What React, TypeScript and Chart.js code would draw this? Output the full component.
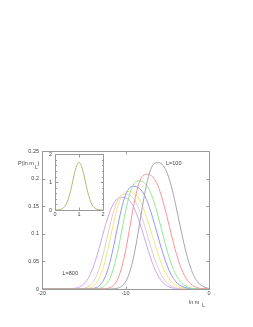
import React, { useEffect, useRef } from "react";
import { Chart, registerables } from "chart.js";

Chart.register(...registerables);

// ---- data ----
const lnm = [
  -20, -19.5, -19, -18.5, -18, -17.5, -17, -16.5, -16, -15.5, -15, -14.5, -14, -13.5,
  -13, -12.5, -12, -11.5, -11, -10.5, -10, -9.5, -9, -8.5, -8, -7.5, -7, -6.5, -6,
  -5.5, -5, -4.5, -4, -3.5, -3, -2.5, -2, -1.5, -1, -0.5, 0,
];

const pL100 = [
  0, 0, 0, 0, 0, 0, 0, 0, 0, 0, 0, 0, 0, 0, 0, 0,
  0.0001, 0.0003, 0.0013, 0.0045, 0.0129, 0.0303, 0.0599, 0.1009, 0.1469, 0.1881,
  0.216, 0.2278, 0.2288, 0.2238, 0.2097, 0.1855, 0.1533, 0.1172, 0.0823, 0.0526,
  0.0303, 0.0157, 0.0073, 0.003, 0.0011,
];
const pL200 = [
  0, 0, 0, 0, 0, 0, 0, 0, 0, 0, 0, 0, 0, 0,
  0.0001, 0.0004, 0.0017, 0.0058, 0.016, 0.0363, 0.0687, 0.1103, 0.1527, 0.186,
  0.2039, 0.208, 0.2062, 0.1982, 0.1821, 0.1583, 0.129, 0.0979, 0.0687, 0.0443,
  0.0261, 0.014, 0.0067, 0.0029, 0.0011, 0.0004, 0.0001,
];
const pL300 = [
  0, 0, 0, 0, 0, 0, 0, 0, 0, 0, 0, 0,
  0.0001, 0.0005, 0.0018, 0.0058, 0.0155, 0.0342, 0.0636, 0.1013, 0.1403, 0.1719,
  0.1904, 0.1959, 0.195, 0.1887, 0.1749, 0.1535, 0.1265, 0.0971, 0.0689, 0.0449,
  0.0267, 0.0145, 0.0071, 0.0031, 0.0012, 0.0004, 0.0001, 0, 0,
];
const pL400 = [
  0, 0, 0, 0, 0, 0, 0, 0, 0, 0, 0,
  0.0002, 0.0007, 0.0027, 0.0081, 0.0199, 0.041, 0.0719, 0.1087, 0.144, 0.1702,
  0.1835, 0.186, 0.1841, 0.1767, 0.1625, 0.1417, 0.1163, 0.0892, 0.0635, 0.0418,
  0.0252, 0.0139, 0.007, 0.0032, 0.0013, 0.0005, 0.0002, 0, 0, 0,
];
const pL500 = [
  0, 0, 0, 0, 0, 0, 0, 0, 0,
  0.0001, 0.0003, 0.0011, 0.0038, 0.0106, 0.0244, 0.0475, 0.0792, 0.1145, 0.1459,
  0.1671, 0.1761, 0.1769, 0.174, 0.1657, 0.1512, 0.1311, 0.1073, 0.0823, 0.0589,
  0.039, 0.0239, 0.0134, 0.0069, 0.0032, 0.0014, 0.0005, 0.0002, 0, 0, 0, 0,
];
const pL600 = [
  0, 0, 0, 0, 0, 0, 0, 0,
  0.0001, 0.0003, 0.0012, 0.0039, 0.0103, 0.0231, 0.0442, 0.0732, 0.1062, 0.1367,
  0.1588, 0.1699, 0.172, 0.1701, 0.1628, 0.1487, 0.1283, 0.1038, 0.078, 0.0541,
  0.0345, 0.02, 0.0106, 0.005, 0.0021, 0.0008, 0.0003, 0.0001, 0, 0, 0, 0, 0,
];
const pL800 = [
  0, 0, 0, 0, 0, 0,
  0.0001, 0.0005, 0.0014, 0.0038, 0.009, 0.0187, 0.0343, 0.0561, 0.0825, 0.1102,
  0.1349, 0.153, 0.1631, 0.166, 0.1652, 0.1597, 0.1476, 0.1291, 0.1057, 0.0805,
  0.0565, 0.0364, 0.0213, 0.0113, 0.0054, 0.0023, 0.0009, 0.0003, 0.0001,
  0, 0, 0, 0, 0, 0,
];

const seriesNames = ["L=100", "L=200", "L=300", "L=400", "L=500", "L=600", "L=800"];
const seriesValues = [pL100, pL200, pL300, pL400, pL500, pL600, pL800];
const seriesColors = ["#a6a6a6", "#ff9292", "#92e892", "#9494ff", "#f0e878", "#e2cdd0", "#cca6f6"];

const xTicks = [-20, -10, 0];
const xTickLabels = ["-20", "-10", "0"];
const yTicks = [0, 0.05, 0.1, 0.15, 0.2, 0.25];
const yTickLabels = ["0", "0.05", "0.1", "0.15", "0.2", "0.25"];

const insetX = [0, 0.1, 0.2, 0.3, 0.4, 0.5, 0.6, 0.7, 0.8, 0.9, 1, 1.1, 1.2, 1.3, 1.4, 1.5, 1.6, 1.7, 1.8, 1.9, 2];
const insetY = [0.001, 0.004, 0.015, 0.046, 0.119, 0.269, 0.524, 0.879, 1.272, 1.588, 1.71, 1.588, 1.272, 0.879, 0.524, 0.269, 0.119, 0.046, 0.015, 0.004, 0.001];
const insetTicks = [0, 1, 2];
const insetTickLabels = ["0", "1", "2"];
const insetMinorTicks = [0, 0.2, 0.4, 0.6, 0.8, 1, 1.2, 1.4, 1.6, 1.8, 2];

const FONT_FAMILY = '"Liberation Sans", Arial, sans-serif';
const FONT_SIZE = 5.5;
const TEXT_COLOR = "#444444";
const FRAME_COLOR = "#9a9a9a";

function px(v: number) {
  return Math.round(v) + 0.5;
}

const mainDecor = {
  id: "mainDecor",
  afterDraw(chart: any) {
    const { ctx, chartArea } = chart;
    const xs = chart.scales.x;
    const ys = chart.scales.y;
    const L = px(chartArea.left), R = px(chartArea.right), T = px(chartArea.top), B = px(chartArea.bottom);
    ctx.save();
    ctx.strokeStyle = FRAME_COLOR;
    ctx.lineWidth = 1;
    ctx.beginPath();
    ctx.rect(L, T, R - L, B - T);
    for (const v of yTicks) {
      const y = px(ys.getPixelForValue(v));
      ctx.moveTo(L, y); ctx.lineTo(L + 3, y);
      ctx.moveTo(R, y); ctx.lineTo(R - 3, y);
    }
    for (const v of xTicks) {
      const x = px(xs.getPixelForValue(v));
      ctx.moveTo(x, B); ctx.lineTo(x, B - 3);
      ctx.moveTo(x, T); ctx.lineTo(x, T + 3);
    }
    ctx.stroke();

    ctx.fillStyle = TEXT_COLOR;
    ctx.textBaseline = "middle";
    ctx.textAlign = "left";
    ctx.font = `${FONT_SIZE}px ${FONT_FAMILY}`;
    // y title  P(ln m_L)
    const yt = "P(ln m";
    const ytx = 18, yty = 163.5;
    ctx.fillText(yt, ytx, yty);
    const w1 = ctx.measureText(yt).width;
    ctx.font = `${FONT_SIZE - 0.5}px ${FONT_FAMILY}`;
    ctx.fillText("L", ytx + w1 + 1.2, yty + 4.5);
    ctx.font = `${FONT_SIZE}px ${FONT_FAMILY}`;
    ctx.fillText(")", ytx + w1 + 3.6, yty);
    // x title ln m_L
    const xt = "ln m";
    const xtx = 189, xty = 302;
    ctx.fillText(xt, xtx, xty);
    const w2 = ctx.measureText(xt).width;
    ctx.font = `${FONT_SIZE - 0.5}px ${FONT_FAMILY}`;
    ctx.fillText("L", xtx + w2 + 2.5, xty + 3.5);
    ctx.font = `${FONT_SIZE}px ${FONT_FAMILY}`;
    // curve labels
    ctx.fillText(seriesNames[0], 166, 163);
    ctx.fillText(seriesNames[6], 62.5, 273.5);
    ctx.restore();
  },
};

const insetDecor = {
  id: "insetDecor",
  afterDraw(chart: any) {
    const { ctx, chartArea } = chart;
    const xs = chart.scales.x;
    const ys = chart.scales.y;
    const L = px(chartArea.left), R = px(chartArea.right), T = px(chartArea.top), B = px(chartArea.bottom);
    ctx.save();
    ctx.strokeStyle = FRAME_COLOR;
    ctx.lineWidth = 1;
    ctx.beginPath();
    ctx.rect(L, T, R - L, B - T);
    for (const v of insetMinorTicks) {
      const y = px(ys.getPixelForValue(v));
      const len = insetTicks.includes(v) ? 3 : 1.5;
      ctx.moveTo(L, y); ctx.lineTo(L + len, y);
      ctx.moveTo(R, y); ctx.lineTo(R - len, y);
    }
    for (const v of insetTicks) {
      const x = px(xs.getPixelForValue(v));
      ctx.moveTo(x, B); ctx.lineTo(x, B - 3);
      ctx.moveTo(x, T); ctx.lineTo(x, T + 3);
    }
    ctx.stroke();
    ctx.restore();
  },
};

const tickFont = { family: FONT_FAMILY, size: FONT_SIZE };

function MainChart() {
  const ref = useRef<HTMLCanvasElement | null>(null);
  useEffect(() => {
    if (!ref.current) return;
    const chart = new Chart(ref.current, {
      type: "line",
      data: {
        datasets: seriesValues.map((vals, k) => ({
          label: seriesNames[k],
          data: lnm.map((x, i) => ({ x, y: vals[i] })),
          borderColor: seriesColors[k],
          borderWidth: 1,
          pointRadius: 0,
          fill: false,
          cubicInterpolationMode: "monotone" as const,
        })),
      },
      options: {
        animation: false,
        responsive: false,
        devicePixelRatio: 1,
        events: [],
        layout: { padding: { top: 151, right: 44, left: 0, bottom: 0 } },
        plugins: { legend: { display: false }, tooltip: { enabled: false } },
        scales: {
          x: {
            type: "linear",
            min: -20,
            max: 0,
            afterBuildTicks: (s: any) => { s.ticks = xTicks.map((v) => ({ value: v })); },
            afterFit: (s: any) => { s.height = 38; },
            grid: { display: false, drawTicks: false },
            border: { display: false },
            ticks: {
              font: tickFont,
              color: TEXT_COLOR,
              padding: 1.5,
              maxRotation: 0,
              autoSkip: false,
              callback: (_v: any, i: number) => xTickLabels[i],
            },
          },
          y: {
            type: "linear",
            min: 0,
            max: 0.25,
            afterBuildTicks: (s: any) => { s.ticks = yTicks.map((v) => ({ value: v })); },
            afterFit: (s: any) => { s.width = 42; },
            grid: { display: false, drawTicks: false },
            border: { display: false },
            ticks: {
              font: tickFont,
              color: TEXT_COLOR,
              padding: 3,
              autoSkip: false,
              callback: (_v: any, i: number) => yTickLabels[i],
            },
          },
        },
      },
      plugins: [mainDecor],
    } as any);
    return () => chart.destroy();
  }, []);
  return <canvas ref={ref} width={253} height={327} style={{ position: "absolute", left: 0, top: 0, width: 253, height: 327 }} />;
}

function InsetChart() {
  const ref = useRef<HTMLCanvasElement | null>(null);
  useEffect(() => {
    if (!ref.current) return;
    const chart = new Chart(ref.current, {
      type: "line",
      data: {
        datasets: [
          {
            label: "scaled",
            data: insetX.map((x, i) => ({ x, y: insetY[i] })),
            borderColor: "#a8c070",
            borderWidth: 1,
            pointRadius: 0,
            fill: false,
            cubicInterpolationMode: "monotone" as const,
          },
        ],
      },
      options: {
        animation: false,
        responsive: false,
        devicePixelRatio: 1,
        events: [],
        layout: { padding: { top: 6, right: 5, left: 0, bottom: 0 } },
        plugins: { legend: { display: false }, tooltip: { enabled: false } },
        scales: {
          x: {
            type: "linear",
            min: 0,
            max: 2,
            afterBuildTicks: (s: any) => { s.ticks = insetTicks.map((v) => ({ value: v })); },
            afterFit: (s: any) => { s.height = 12; },
            grid: { display: false, drawTicks: false },
            border: { display: false },
            ticks: {
              font: tickFont,
              color: TEXT_COLOR,
              padding: 1.5,
              maxRotation: 0,
              autoSkip: false,
              callback: (_v: any, i: number) => insetTickLabels[i],
            },
          },
          y: {
            type: "linear",
            min: 0,
            max: 2,
            afterBuildTicks: (s: any) => { s.ticks = insetTicks.map((v) => ({ value: v })); },
            afterFit: (s: any) => { s.width = 15; },
            grid: { display: false, drawTicks: false },
            border: { display: false },
            ticks: {
              font: tickFont,
              color: TEXT_COLOR,
              padding: 3,
              autoSkip: false,
              callback: (_v: any, i: number) => insetTickLabels[i],
            },
          },
        },
      },
      plugins: [insetDecor],
    } as any);
    return () => chart.destroy();
  }, []);
  return <canvas ref={ref} width={68} height={74} style={{ position: "absolute", left: 40, top: 148, width: 68, height: 74 }} />;
}

export default function App() {
  return (
    <div style={{ position: "fixed", left: 0, top: 0, width: 253, height: 327, background: "#fff", overflow: "hidden" }}>
      <MainChart />
      <InsetChart />
    </div>
  );
}
